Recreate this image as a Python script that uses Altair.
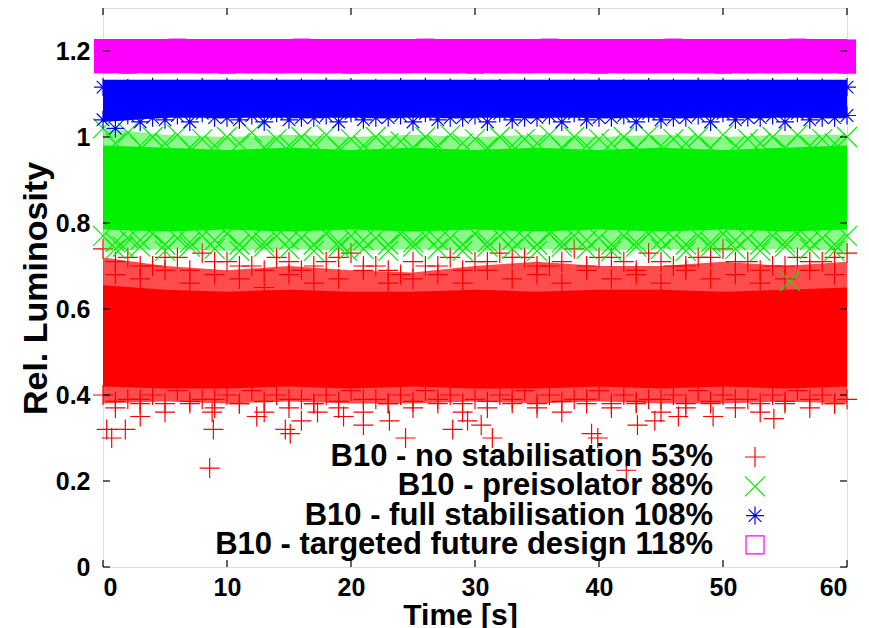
import altair as alt
import pandas as pd

# ---------------- data ----------------
TIME_E = [0, 2, 4, 6, 8, 10, 12, 14, 16, 18, 20, 22, 24, 26, 28, 30,
          32, 34, 36, 38, 40, 42, 44, 46, 48, 50, 52, 54, 56, 58, 60]
TIME_O = [1, 3, 5, 7, 9, 11, 13, 15, 17, 19, 21, 23, 25, 27, 29,
          31, 33, 35, 37, 39, 41, 43, 45, 47, 49, 51, 53, 55, 57, 59]
TIME_C = [0, 5, 10, 15, 20, 25, 30, 35, 40, 45, 50, 55, 60]

# B10 - no stabilisation (red)
RED_CORE_HI = [0.655, 0.645, 0.64, 0.645, 0.64, 0.64, 0.645, 0.64, 0.645, 0.645, 0.64, 0.645, 0.65]
RED_CORE_LO = [0.42, 0.415, 0.415, 0.42, 0.415, 0.42, 0.415, 0.415, 0.42, 0.415, 0.42, 0.415, 0.42]
RED_HALO_HI = [0.72, 0.70, 0.69, 0.70, 0.69, 0.685, 0.70, 0.71, 0.70, 0.70, 0.71, 0.70, 0.71]
RED_HALO_LO = [0.38, 0.385, 0.38, 0.385, 0.38, 0.38, 0.385, 0.38, 0.385, 0.38, 0.38, 0.385, 0.38]
RED_TOP_OUT = [0.74, 0.72, 0.70, 0.72, 0.73, 0.71, 0.70, 0.72, 0.69, 0.71, 0.73, 0.70, 0.68, 0.70, 0.72, 0.71,
               0.73, 0.72, 0.70, 0.74, 0.72, 0.71, 0.73, 0.70, 0.72, 0.74, 0.71, 0.70, 0.72, 0.71, 0.73]
RED_TOP_MID = [0.71, 0.70, 0.72, 0.69, 0.71, 0.70, 0.69, 0.71, 0.70, 0.72, 0.70, 0.69, 0.71, 0.70, 0.69,
               0.71, 0.72, 0.70, 0.71, 0.70, 0.72, 0.69, 0.71, 0.70, 0.72, 0.71, 0.69, 0.70, 0.71, 0.72]
RED_TOP_IN = [0.68, 0.67, 0.69, 0.66, 0.68, 0.67, 0.65, 0.68, 0.66, 0.67, 0.69, 0.66, 0.67, 0.68, 0.66,
              0.69, 0.67, 0.68, 0.66, 0.69, 0.67, 0.68, 0.66, 0.69, 0.67, 0.68, 0.66, 0.67, 0.69, 0.68]
RED_BOT_IN = [0.40, 0.39, 0.40, 0.41, 0.39, 0.40, 0.41, 0.40, 0.39, 0.40, 0.41, 0.39, 0.40, 0.41, 0.40, 0.39,
              0.40, 0.41, 0.40, 0.39, 0.41, 0.40, 0.39, 0.40, 0.41, 0.40, 0.39, 0.40, 0.41, 0.40, 0.39]
RED_BOT_MID = [0.385, 0.39, 0.38, 0.385, 0.39, 0.38, 0.385, 0.39, 0.38, 0.385, 0.39, 0.38, 0.385, 0.39, 0.38,
               0.385, 0.39, 0.38, 0.385, 0.39, 0.38, 0.385, 0.39, 0.38, 0.385, 0.39, 0.38, 0.385, 0.39, 0.38]
RED_BOT_OUT = [0.37, 0.38, 0.36, 0.38, 0.37, 0.38, 0.36, 0.37, 0.38, 0.37, 0.36, 0.38, 0.37, 0.38, 0.36,
               0.37, 0.38, 0.37, 0.36, 0.38, 0.37, 0.38, 0.36, 0.37, 0.38, 0.37, 0.36, 0.38, 0.37, 0.38]
RED_OUT_T = [0.3, 0.7, 1.8, 3.0, 8.6, 8.8, 8.9, 12.4, 14.7, 15.1, 16.0, 17.3, 19.4, 21.0, 23.1, 24.4,
             28.2, 29.4, 30.5, 31.4, 39.4, 39.9, 42.2, 43.1, 44.5, 46.4, 49.2, 54.1]
RED_OUT_V = [0.32, 0.30, 0.32, 0.35, 0.23, 0.36, 0.32, 0.35, 0.32, 0.31, 0.34, 0.36, 0.35, 0.33, 0.34, 0.30,
             0.32, 0.34, 0.33, 0.30, 0.31, 0.30, 0.225, 0.33, 0.34, 0.35, 0.35, 0.345]

# B10 - preisolator (green)
GRN_CORE_HI = [0.98, 0.975, 0.97, 0.975, 0.97, 0.975, 0.97, 0.975, 0.97, 0.975, 0.97, 0.975, 0.98]
GRN_CORE_LO = [0.785, 0.78, 0.785, 0.78, 0.785, 0.78, 0.785, 0.78, 0.785, 0.78, 0.785, 0.78, 0.785]
GRN_HALO_HI = [1.02, 1.005, 1.0, 1.005, 1.0, 1.005, 1.0, 1.005, 1.0, 1.005, 1.0, 1.005, 1.005]
GRN_HALO_LO = [0.735, 0.74, 0.735, 0.74, 0.735, 0.74, 0.735, 0.74, 0.735, 0.74, 0.735, 0.74, 0.735]
GRN_TOP_OUT = [1.02, 1.01, 1.00, 1.005, 0.995, 1.0, 1.01, 0.995, 1.0, 1.005, 0.995, 1.0, 0.99, 1.0, 1.005, 0.995,
               1.0, 0.995, 1.005, 1.0, 0.995, 1.0, 1.005, 0.995, 1.0, 1.005, 0.995, 1.0, 1.005, 0.995, 1.0]
GRN_TOP_IN = [0.985, 0.98, 0.985, 0.975, 0.98, 0.985, 0.975, 0.98, 0.985, 0.975, 0.98, 0.985, 0.975, 0.98, 0.985,
              0.975, 0.98, 0.985, 0.975, 0.98, 0.985, 0.975, 0.98, 0.985, 0.975, 0.98, 0.985, 0.975, 0.98, 0.985]
GRN_BOT_IN = [0.77, 0.765, 0.775, 0.765, 0.77, 0.775, 0.765, 0.77, 0.765, 0.775, 0.77, 0.765, 0.775, 0.77, 0.765,
              0.775, 0.77, 0.765, 0.775, 0.77, 0.765, 0.77, 0.775, 0.765, 0.77, 0.775, 0.765, 0.77, 0.775, 0.765, 0.77]
GRN_BOT_MID = [0.755, 0.76, 0.75, 0.755, 0.76, 0.75, 0.755, 0.76, 0.75, 0.755, 0.76, 0.75, 0.755, 0.76, 0.75,
               0.755, 0.76, 0.75, 0.755, 0.76, 0.75, 0.755, 0.76, 0.75, 0.755, 0.76, 0.75, 0.755, 0.76, 0.75]
GRN_BOT_OUT = [0.74, 0.745, 0.735, 0.745, 0.74, 0.735, 0.745, 0.74, 0.735, 0.745, 0.74, 0.735, 0.745, 0.74, 0.735,
               0.745, 0.74, 0.735, 0.745, 0.74, 0.735, 0.745, 0.74, 0.735, 0.745, 0.74, 0.735, 0.745, 0.74, 0.735]
GRN_OUT_T = [1.6, 19.7, 55.4]
GRN_OUT_V = [0.745, 0.735, 0.665]

# B10 - full stabilisation (blue)
BLU_CORE_HI = [1.133, 1.133, 1.133, 1.133, 1.133, 1.133, 1.133, 1.133, 1.133, 1.133, 1.133, 1.133, 1.133]
BLU_CORE_LO = [1.035, 1.045, 1.045, 1.045, 1.045, 1.045, 1.045, 1.045, 1.045, 1.045, 1.045, 1.045, 1.045]
BLU_TOP = [1.116, 1.114, 1.117, 1.115, 1.116, 1.117, 1.114, 1.116, 1.115, 1.117, 1.116, 1.114, 1.116, 1.117, 1.115, 1.116,
           1.114, 1.117, 1.116, 1.115, 1.117, 1.114, 1.116, 1.115, 1.117, 1.116, 1.114, 1.116, 1.117, 1.115, 1.116]
BLU_BOT_IN = [1.04, 1.05, 1.045, 1.05, 1.055, 1.045, 1.05, 1.055, 1.045, 1.05, 1.055, 1.045, 1.05, 1.055, 1.045, 1.05,
              1.055, 1.045, 1.05, 1.055, 1.045, 1.05, 1.055, 1.045, 1.05, 1.055, 1.045, 1.05, 1.055, 1.045, 1.05]
BLU_BOT_OUT = [1.02, 1.035, 1.04, 1.035, 1.045, 1.04, 1.035, 1.04, 1.045, 1.035, 1.04, 1.045, 1.035, 1.04, 1.045,
               1.035, 1.04, 1.045, 1.035, 1.04, 1.045, 1.035, 1.04, 1.045, 1.035, 1.04, 1.045, 1.035, 1.04, 1.045]

# B10 - targeted future design (magenta)
MAG_CORE_HI = [1.228, 1.228, 1.228, 1.228, 1.228, 1.228, 1.228, 1.228, 1.228, 1.228, 1.228, 1.228, 1.228]
MAG_CORE_LO = [1.148, 1.148, 1.148, 1.148, 1.148, 1.148, 1.148, 1.148, 1.148, 1.148, 1.148, 1.148, 1.148]
MAG_TOP = [1.207, 1.206, 1.207, 1.208, 1.207, 1.206, 1.207, 1.207, 1.208, 1.207, 1.206, 1.207, 1.207, 1.208, 1.207, 1.206,
           1.207, 1.207, 1.208, 1.207, 1.206, 1.207, 1.207, 1.208, 1.207, 1.206, 1.207, 1.207, 1.208, 1.207, 1.206]
MAG_BOT = [1.169, 1.168, 1.169, 1.170, 1.169, 1.168, 1.169, 1.169, 1.170, 1.169, 1.168, 1.169, 1.169, 1.170, 1.169, 1.168,
           1.169, 1.169, 1.170, 1.169, 1.168, 1.169, 1.169, 1.170, 1.169, 1.168, 1.169, 1.169, 1.170, 1.169, 1.168]

LEGEND_LABELS = ["B10 - no stabilisation 53%", "B10 - preisolator 88%",
                 "B10 - full stabilisation 108%", "B10 - targeted future design 118%"]
X_TICKS = [0, 10, 20, 30, 40, 50, 60]
Y_TICKS = [0, 0.2, 0.4, 0.6, 0.8, 1.0, 1.2]

# ---------------- styling ----------------
W, H = 744, 559
FONT = "Liberation Sans"
RED, GREEN, BLUE, MAGENTA = "#ff0000", "#00f000", "#0000ff", "#ff00ff"
PLUS = "M-1,0L1,0M0,-1L0,1"
XMARK = "M-1,-1L1,1M-1,1L1,-1"
STAR = "M-1,0L1,0M0,-1L0,1M-0.7,-0.7L0.7,0.7M-0.7,0.7L0.7,-0.7"
SQUARE = "M-1,-1L1,-1L1,1L-1,1Z"

xs = alt.Scale(domain=[0, 60], nice=False, zero=False)
ys = alt.Scale(domain=[0, 1.3], nice=False, zero=False)
X_AX = alt.Axis(
    values=X_TICKS, ticks=False, tickSize=0, domain=False, grid=False,
    labelFont=FONT, labelFontSize=25, labelFontWeight="bold", labelColor="black",
    labelPadding=8, title="Time [s]", titleFont=FONT, titleFontSize=30,
    titleFontWeight="bold", titleColor="black", titleX=357, titleY=57,
    titleBaseline="alphabetic", titleAlign="center")
Y_AX = alt.Axis(
    values=Y_TICKS, format="~g", ticks=False, tickSize=0, domain=False, grid=False,
    labelFont=FONT, labelFontSize=25, labelFontWeight="bold", labelColor="black",
    labelPadding=13, title="Rel. Luminosity", titleFont=FONT, titleFontSize=34,
    titleFontWeight="bold", titleColor="black", titleX=-57, titleY=280,
    titleAngle=270, titleBaseline="alphabetic", titleAlign="center")


def X(f):
    return alt.X(f, type="quantitative", scale=xs, axis=X_AX, title="Time [s]")


def Y(f):
    return alt.Y(f, type="quantitative", scale=ys, axis=Y_AX, title="Rel. Luminosity")


def pts(pairs):
    frames = [pd.DataFrame({"t": t, "v": v}) for t, v in pairs]
    return pd.concat(frames, ignore_index=True)


def band(lo, hi, color, opacity=1.0):
    df = pd.DataFrame({"t": TIME_C, "lo": lo, "hi": hi})
    return alt.Chart(df).mark_area(color=color, opacity=opacity).encode(
        x=X("t"), y=Y("lo"), y2="hi")


def markers(df, shape, color, size, filled=False, sw=1.2):
    if filled:
        mk = alt.Chart(df).mark_point(shape=shape, filled=True, fill=color, size=size,
                                      opacity=1, strokeWidth=0)
    else:
        mk = alt.Chart(df).mark_point(shape=shape, filled=False, stroke=color, size=size,
                                      opacity=1, strokeWidth=sw)
    return mk.encode(x=X("t"), y=Y("v"))


red_pts = pts([(TIME_E, RED_TOP_OUT), (TIME_O, RED_TOP_MID), (TIME_O, RED_TOP_IN),
               (TIME_E, RED_BOT_IN), (TIME_O, RED_BOT_MID), (TIME_O, RED_BOT_OUT),
               (RED_OUT_T, RED_OUT_V)])
grn_pts = pts([(TIME_E, GRN_TOP_OUT), (TIME_O, GRN_TOP_IN), (TIME_E, GRN_BOT_IN),
               (TIME_O, GRN_BOT_MID), (TIME_O, GRN_BOT_OUT), (GRN_OUT_T, GRN_OUT_V)])
blu_pts = pts([(TIME_E, BLU_TOP), (TIME_E, BLU_BOT_IN), (TIME_O, BLU_BOT_OUT)])
mag_pts = pts([(TIME_E, MAG_TOP), (TIME_E, MAG_BOT)])

# inward ticks on all four sides (gnuplot style)
xt = pd.DataFrame({"t": X_TICKS})
yt = pd.DataFrame({"v": Y_TICKS})
TL = 7
tick_layers = [
    alt.Chart(xt).mark_rule(color="black", strokeWidth=1.2).encode(
        x=X("t"), y=alt.value(H), y2=alt.value(H - TL)),
    alt.Chart(xt).mark_rule(color="black", strokeWidth=1.2).encode(
        x=X("t"), y=alt.value(0), y2=alt.value(TL)),
    alt.Chart(yt).mark_rule(color="black", strokeWidth=1.2).encode(
        y=Y("v"), x=alt.value(0), x2=alt.value(TL)),
    alt.Chart(yt).mark_rule(color="black", strokeWidth=1.2).encode(
        y=Y("v"), x=alt.value(W), x2=alt.value(W - TL)),
]

# gnuplot-like key: right-aligned text with the sample marker to its right
ROW0, ROWSTEP = 449, 29.3
KEY_SHAPES = [PLUS, XMARK, STAR, SQUARE]
KEY_COLORS = [RED, GREEN, BLUE, MAGENTA]
KEY_SIZES = [400, 400, 324, 324]
one = pd.DataFrame({"k": [0]})
key_layers = []
for i, lab in enumerate(LEGEND_LABELS):
    ypx = ROW0 + i * ROWSTEP
    key_layers.append(alt.Chart(one).mark_text(
        align="right", baseline="middle", font=FONT, fontSize=31, fontWeight="bold",
        color="black", text=lab).encode(x=alt.value(610), y=alt.value(ypx)))
    key_layers.append(alt.Chart(one).mark_point(
        shape=KEY_SHAPES[i], filled=False, stroke=KEY_COLORS[i], size=KEY_SIZES[i],
        opacity=1, strokeWidth=1.2).encode(x=alt.value(652), y=alt.value(ypx)))

chart = alt.layer(
    band(RED_HALO_LO, RED_HALO_HI, RED, 0.7),
    band(RED_CORE_LO, RED_CORE_HI, RED), markers(red_pts, PLUS, RED, 400),
    band(GRN_HALO_LO, GRN_HALO_HI, GREEN, 0.45),
    band(GRN_CORE_LO, GRN_CORE_HI, GREEN), markers(grn_pts, XMARK, GREEN, 400),
    band(BLU_CORE_LO, BLU_CORE_HI, BLUE), markers(blu_pts, STAR, BLUE, 324),
    band(MAG_CORE_LO, MAG_CORE_HI, MAGENTA), markers(mag_pts, "square", MAGENTA, 324, filled=True),
    *tick_layers,
    *key_layers,
).properties(
    width=W, height=H,
    autosize=alt.AutoSizeParams(type="none"),
    padding={"left": 103, "top": 8, "right": 22, "bottom": 61},
).configure_view(stroke="black", strokeWidth=1.5).configure(background="white")

chart.save("out.html", embed_options={"renderer": "svg", "actions": False})
